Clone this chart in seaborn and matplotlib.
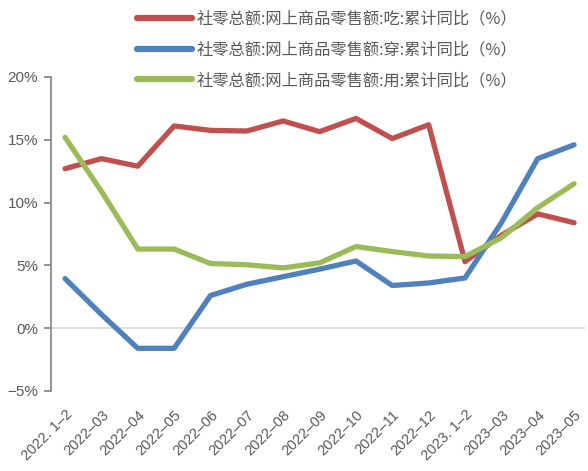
import matplotlib
matplotlib.use("Agg")
import matplotlib.pyplot as plt
import seaborn as sns
import pandas as pd
from matplotlib.lines import Line2D
from matplotlib.ticker import FuncFormatter

categories = ["2022. 1–2", "2022–03", "2022–04", "2022–05", "2022–06", "2022–07",
              "2022–08", "2022–09", "2022–10", "2022–11", "2022–12", "2023. 1–2",
              "2023–03", "2023–04", "2023–05"]
eat = [12.7, 13.5, 12.9, 16.1, 15.75, 15.7, 16.5, 15.65, 16.7, 15.1, 16.2, 5.3, 7.4, 9.1, 8.4]
wear = [3.95, 1.1, -1.6, -1.6, 2.6, 3.5, 4.1, 4.7, 5.35, 3.4, 3.6, 4.0, 8.4, 13.5, 14.6]
use = [15.2, 10.9, 6.3, 6.3, 5.15, 5.05, 4.8, 5.2, 6.5, 6.1, 5.75, 5.7, 7.2, 9.6, 11.5]
series_names = ["社零总额:网上商品零售额:吃:累计同比（%）",
                "社零总额:网上商品零售额:穿:累计同比（%）",
                "社零总额:网上商品零售额:用:累计同比（%）"]
colors = ["#C0504D", "#4F81BD", "#9BBB59"]
yticks = [-5, 0, 5, 10, 15, 20]

sns.set_theme(style="white")
plt.rcParams['font.family'] = ['Liberation Sans', 'Noto Sans CJK SC', 'DejaVu Sans']

rows = []
for name, vals in zip(series_names, [eat, wear, use]):
    for i, (c, v) in enumerate(zip(categories, vals)):
        rows.append({"idx": i, "cat": c, "series": name, "value": v})
df = pd.DataFrame(rows)

fig = plt.figure(figsize=(5.88, 4.71), dpi=100)
ax = fig.add_axes([50.5 / 588, 1 - 391 / 471, (585 - 50.5) / 588, (391 - 77) / 471])

ax.axhline(0, color="#D9D9D9", lw=1.2, zorder=1)
sns.lineplot(data=df, x="idx", y="value", hue="series", palette=colors,
             hue_order=series_names, lw=3.8, ax=ax, legend=False, zorder=3)
for l in ax.lines[1:]:
    l.set_solid_capstyle("round")
    l.set_solid_joinstyle("round")

ax.set_xlim(-0.4, 14.3)
ax.set_ylim(-5, 20)
ax.set_yticks(yticks)
ax.yaxis.set_major_formatter(FuncFormatter(lambda v, p: f"{int(v)}%".replace("-", "−")))
ax.set_xticks(range(len(categories)))
ax.set_xticklabels(categories, rotation=45, ha="right", rotation_mode="anchor")
ax.set_xlabel("")
ax.set_ylabel("")

for s in ["top", "right", "bottom"]:
    ax.spines[s].set_visible(False)
ax.spines["left"].set_color("#808080")
ax.spines["left"].set_linewidth(1.2)
ax.tick_params(axis="y", which="major", left=True, length=5, width=1.2, color="#808080",
               labelsize=11, labelcolor="#595959", pad=4)
ax.tick_params(axis="x", bottom=False, labelsize=10.5, labelcolor="#595959", pad=6)

handles = [Line2D([0], [0], color=c, lw=4.5, solid_capstyle="round") for c in colors]
leg = fig.legend(handles, series_names, loc="upper left", bbox_to_anchor=(130 / 588, 1 - 4 / 471),
                 frameon=False, fontsize=11.7, handlelength=3.4, handletextpad=0.3,
                 labelspacing=0.85, borderaxespad=0)
for t in leg.get_texts():
    t.set_color("#595959")
    t.set_family(['Noto Sans CJK SC', 'DejaVu Sans'])

fig.savefig("out.png", dpi=100)
